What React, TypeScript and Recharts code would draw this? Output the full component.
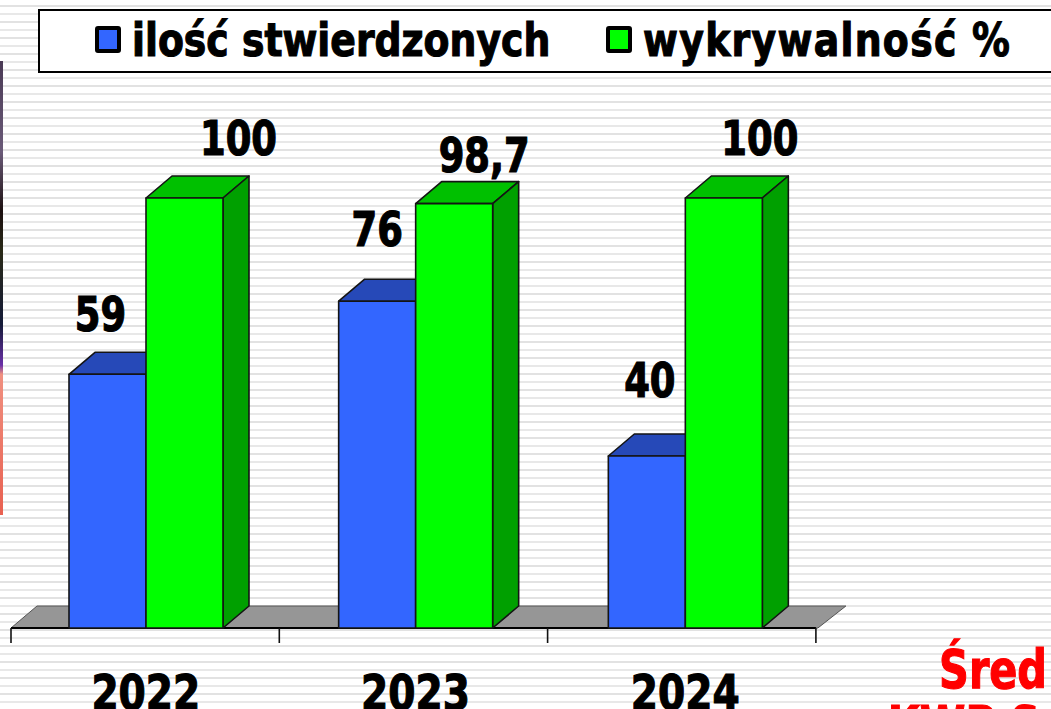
import { BarChart, Bar, XAxis, YAxis, Legend, LabelList, usePlotArea } from "recharts";

// Years and the two series.
const YEARS = ["2022", "2023", "2024"];
const STWIERDZONE = [59, 76, 40];
const WYKRYWALNOSC = [100, 98.7, 100];
const SERIES_NAMES = ["ilość stwierdzonych", "wykrywalność %"];

const rows = YEARS.map((year, i) => ({
  year,
  stwierdzone: STWIERDZONE[i],
  wykrywalnosc: WYKRYWALNOSC[i],
}));

const BLUE = { front: "#3366ff", top: "#2649b8", side: "#1f3da0" };
const GREEN = { front: "#00ff00", top: "#00c000", side: "#00a000" };
const EDGE = "#141414";
const DX = 26; // depth of the fake 3D
const DY = 22;
const TICK_STEP = 268.3; // axis ticks run slightly tighter than the bars in the original
const FLOOR_LEFT = 11;

const FONT = "'DejaVu Sans', sans-serif";

// Labels were hand-placed in the original slide: [dx from bar centre, gap above bar]
const BLUE_NUDGE = [[-7, 43], [0, 55], [3, 59]];
const GREEN_NUDGE = [[54, 43], [30, 32], [36, 43]];

function Text3({ x, y, size, scaleY = 1.15, fill = "#000", anchor = "middle", children }: any) {
  return (
    <text
      transform={`translate(${x} ${y}) scale(1 ${scaleY})`}
      textAnchor={anchor}
      fontFamily={FONT}
      fontWeight="bold"
      fontSize={size}
      fill={fill}
      stroke={fill}
      strokeWidth={1}
      style={{ fontStretch: "condensed" }}
    >
      {children}
    </text>
  );
}

function Box3D({ x, y, width, height, colors }: any) {
  return (
    <g stroke={EDGE} strokeWidth={1.6} strokeLinejoin="round">
      <polygon
        points={`${x},${y} ${x + DX},${y - DY} ${x + width + DX},${y - DY} ${x + width},${y}`}
        fill={colors.top}
      />
      <polygon
        points={`${x + width},${y} ${x + width + DX},${y - DY} ${x + width + DX},${y + height - DY} ${x + width},${y + height}`}
        fill={colors.side}
      />
      <rect x={x} y={y} width={width} height={height} fill={colors.front} />
    </g>
  );
}

function Floor() {
  const plot = usePlotArea();
  if (!plot) return null;
  const base = plot.y + plot.height;
  const right = FLOOR_LEFT + TICK_STEP * YEARS.length;
  return (
    <g>
      <polygon
        points={`${FLOOR_LEFT},${base} ${FLOOR_LEFT + DX},${base - DY} ${right + 30},${base - DY} ${right + 2},${base}`}
        fill="#969696"
        stroke="#555"
        strokeWidth={1}
      />
      <line x1={FLOOR_LEFT} y1={base} x2={right} y2={base} stroke="#000" strokeWidth={2} />
      {[0, 1, 2, 3].map((i) => (
        <line
          key={i}
          x1={FLOOR_LEFT + i * TICK_STEP}
          y1={base}
          x2={FLOOR_LEFT + i * TICK_STEP}
          y2={base + 15}
          stroke="#111"
          strokeWidth={1.6}
        />
      ))}
    </g>
  );
}

function valueLabel(nudges: number[][]) {
  return (props: any) => {
    const { x, y, width, index, value } = props;
    const [dx, gap] = nudges[index];
    return (
      <Text3 x={x + width / 2 + dx} y={y - gap} size={41}>
        {String(value).replace(".", ",")}
      </Text3>
    );
  };
}

function YearTick({ x, y, payload }: any) {
  return (
    <Text3 x={x} y={y + 74} size={43.5}>
      {payload.value}
    </Text3>
  );
}

function LegendBox() {
  const swatches = [BLUE.front, GREEN.front];
  const lefts = [56, 567];
  const spacing = [0, 1.3];
  return (
    <div
      style={{
        position: "relative",
        height: 64,
        boxSizing: "border-box",
        border: "2px solid #000",
        borderRight: "none",
        background: "#fff",
      }}
    >
      {SERIES_NAMES.map((name, i) => (
        <div key={name}>
          <div
            style={{
              position: "absolute",
              left: lefts[i] - 1,
              top: 15,
              width: 18,
              height: 19,
              background: swatches[i],
              border: "4px solid #000",
              borderRadius: 3,
            }}
          />
          <div
            style={{
              position: "absolute",
              left: lefts[i] + 36,
              top: 2,
              fontFamily: FONT,
              fontWeight: "bold",
              fontStretch: "condensed",
              fontSize: 42,
              letterSpacing: spacing[i],
              WebkitTextStroke: "1px #000",
              lineHeight: "54px",
              whiteSpace: "nowrap",
              color: "#000",
              transform: "scaleY(1.12)",
            }}
          >
            {name}
          </div>
        </div>
      ))}
    </div>
  );
}

export default function App() {
  return (
    <div
      style={{
        position: "absolute",
        left: 0,
        top: 0,
        width: 1051,
        height: 709,
        overflow: "hidden",
        background:
          "repeating-linear-gradient(to bottom, #fff 0px, #fff 5px, #e2e2e2 5px, #e2e2e2 7px, #fff 7px, #fff 13px, #e8e8e8 13px, #e8e8e8 15px, #fff 15px, #fff 16px)",
      }}
    >
      <div
        style={{
          position: "absolute",
          left: 0,
          top: 61,
          width: 3,
          height: 454,
          background:
            "linear-gradient(to bottom, #4a3a55 0%, #6a5a78 20%, #1c1010 33%, #2a2a18 42%, #141a38 58%, #6a30a8 67%, #f09080 69%, #e86050 100%)",
        }}
      />
      <BarChart
        width={1051}
        height={709}
        data={rows}
        barSize={77}
        barGap={0}
        margin={{ top: 134, right: 231, bottom: 51, left: 11 }}
        style={{ position: "absolute", left: 0, top: 0 }}
      >
        <Legend
          verticalAlign="top"
          content={<LegendBox />}
          wrapperStyle={{ top: 9, left: 38, width: 1020 }}
        />
        <XAxis dataKey="year" axisLine={false} tickLine={false} tick={<YearTick />} interval={0} />
        <YAxis hide domain={[0, 100]} />
        <Floor />
        <Bar
          dataKey="stwierdzone"
          isAnimationActive={false}
          shape={(p: any) => <Box3D {...p} colors={BLUE} />}
        >
          <LabelList dataKey="stwierdzone" content={valueLabel(BLUE_NUDGE)} />
        </Bar>
        <Bar
          dataKey="wykrywalnosc"
          isAnimationActive={false}
          shape={(p: any) => <Box3D {...p} colors={GREEN} />}
        >
          <LabelList dataKey="wykrywalnosc" content={valueLabel(GREEN_NUDGE)} />
        </Bar>
        <Text3 x={1047} y={688} size={46} fill="#ff0000" anchor="end">
          Śred
        </Text3>
        <Text3 x={1040} y={744} size={46} fill="#ff0000" anchor="end">
          KWP S
        </Text3>
      </BarChart>
    </div>
  );
}
